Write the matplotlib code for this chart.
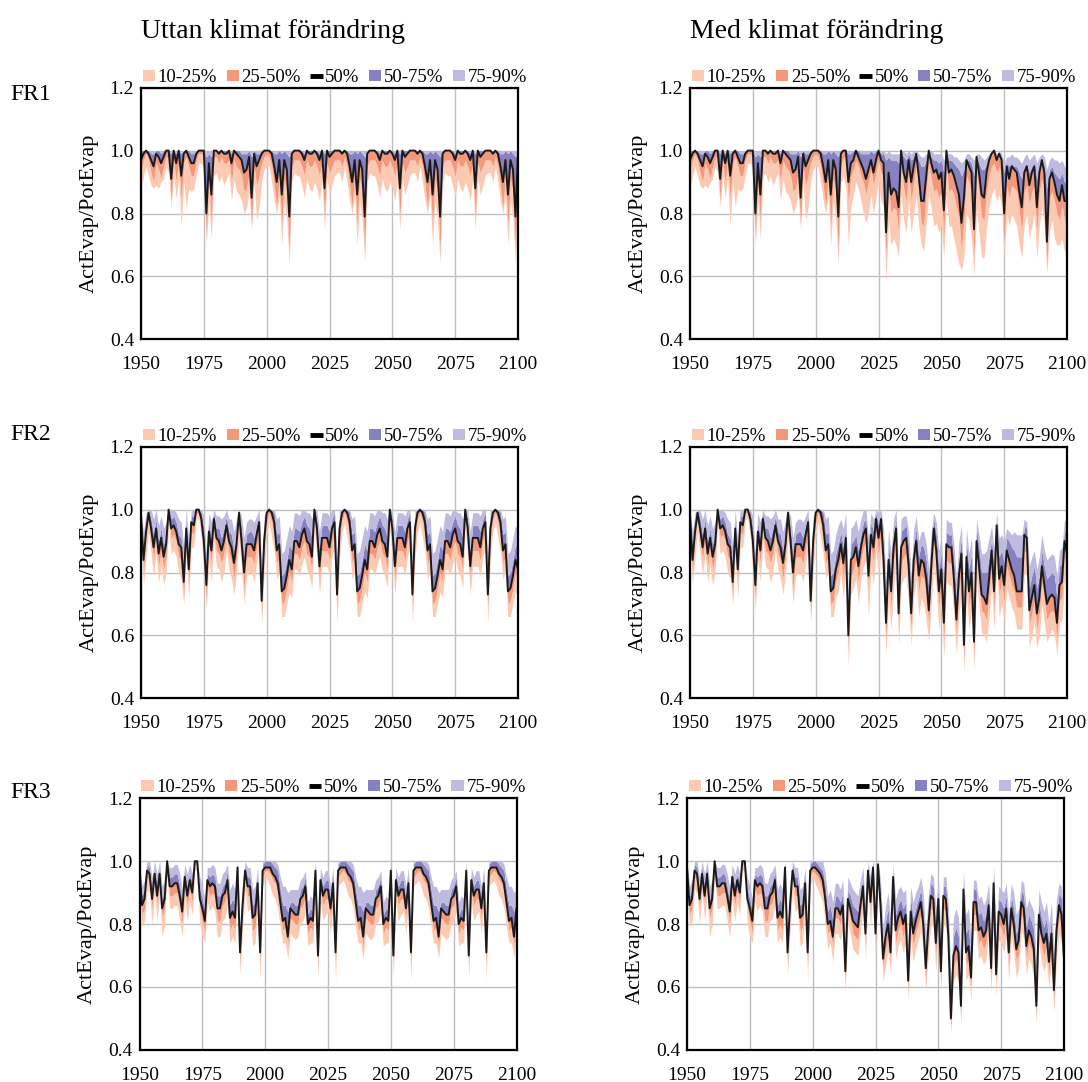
import numpy as np
import matplotlib.pyplot as plt
from matplotlib.patches import Patch
from matplotlib.lines import Line2D

plt.rcParams['font.family'] = ['Liberation Serif', 'DejaVu Serif']

YEARS = np.arange(1950, 2101)
REGIONS = ['FR1', 'FR2', 'FR3']
COL_TITLES = ['Uttan klimat förändring', 'Med klimat förändring']
BAND_LABELS = ['10-25%', '25-50%', '50%', '50-75%', '75-90%']
X_TICKS = [1950, 1975, 2000, 2025, 2050, 2075, 2100]
Y_TICKS = [0.4, 0.6, 0.8, 1.0, 1.2]

# values in hundredths of ActEvap/PotEvap
# HIST = 1950-2000 (same in both columns), CYC = 2001-2030 (repeats without
# climate change), FUT = 2001-2100 with climate change

# ---- FR1 ----
FR1_HIST_MED = [97, 99, 100, 99, 97, 95, 99, 98, 96, 98,
                100, 100, 91, 100, 96, 100, 92, 99, 100, 98,
                96, 96, 99, 100, 100, 100, 80, 96, 86, 100,
                100, 99, 100, 99, 99, 100, 96, 100, 99, 98,
                97, 93, 94, 98, 85, 99, 95, 97, 99, 100,
                100]
FR1_HIST_Q75 = [100, 100, 100, 100, 99, 99, 100, 100, 99, 100,
                100, 100, 99, 100, 99, 100, 99, 100, 100, 100,
                99, 99, 100, 100, 100, 100, 98, 99, 98, 100,
                100, 100, 100, 100, 100, 100, 99, 100, 100, 100,
                99, 99, 99, 100, 98, 100, 99, 99, 100, 100,
                100]
FR1_HIST_Q90 = [100] * 51
FR1_HIST_Q25 = [94, 97, 99, 97, 93, 90, 96, 94, 91, 95,
                98, 98, 84, 97, 90, 97, 84, 96, 98, 95,
                92, 92, 97, 99, 99, 98, 72, 91, 77, 98,
                98, 96, 98, 96, 96, 97, 90, 97, 95, 94,
                92, 87, 88, 93, 76, 95, 89, 92, 96, 98,
                99]
FR1_HIST_Q10 = [88, 92, 95, 92, 89, 88, 89, 88, 90, 91,
                95, 93, 82, 92, 85, 91, 76, 90, 82, 88,
                87, 88, 92, 96, 96, 94, 70, 84, 72, 92,
                93, 90, 92, 89, 91, 93, 84, 91, 87, 86,
                84, 80, 82, 87, 75, 90, 78, 82, 90, 94,
                95]

FR1_CYC_MED = [100, 99, 95, 90, 97, 86, 97, 94, 79, 99,
               100, 100, 100, 99, 97, 100, 99, 99, 100, 99,
               97, 100, 88, 100, 98, 99, 100, 100, 100, 99]
FR1_CYC_Q75 = [100, 100, 99, 99, 100, 99, 100, 99, 98, 100,
               100, 100, 100, 100, 99, 100, 100, 100, 100, 100,
               99, 100, 99, 100, 100, 100, 100, 100, 100, 100]
FR1_CYC_Q90 = [100] * 30
FR1_CYC_Q25 = [98, 95, 89, 82, 92, 76, 91, 87, 68, 95,
               97, 97, 97, 95, 92, 97, 95, 95, 97, 95,
               92, 96, 79, 96, 93, 95, 97, 97, 97, 95]
FR1_CYC_Q10 = [95, 90, 84, 80, 86, 70, 84, 78, 64, 90,
               93, 92, 92, 89, 85, 91, 88, 87, 90, 88,
               84, 91, 75, 91, 86, 89, 92, 93, 93, 90]

FR1_FUT_MED = [100, 99, 95, 90, 97, 86, 97, 94, 79, 99,
               100, 100, 90, 96, 97, 100, 98, 96, 94, 91,
               94, 97, 93, 97, 100, 97, 96, 74, 93, 86,
               88, 87, 82, 100, 93, 90, 97, 90, 95, 99,
               92, 84, 84, 92, 100, 96, 93, 94, 91, 93,
               81, 100, 93, 94, 92, 89, 86, 77, 85, 97,
               95, 93, 75, 98, 93, 86, 85, 93, 97, 99,
               100, 97, 99, 97, 80, 95, 91, 95, 94, 93,
               87, 82, 93, 95, 89, 93, 95, 82, 93, 97,
               93, 71, 91, 93, 90, 86, 84, 89, 84, 84]
FR1_FUT_Q75 = [100, 100, 99, 99, 100, 99, 100, 99, 98, 100,
               100, 100, 99, 99, 100, 100, 100, 99, 99, 99,
               99, 100, 99, 100, 100, 99, 99, 97, 98, 97,
               97, 97, 96, 100, 98, 97, 99, 97, 98, 99,
               97, 95, 95, 97, 99, 98, 97, 97, 96, 97,
               93, 99, 97, 97, 96, 95, 94, 92, 94, 97,
               97, 96, 92, 98, 96, 94, 94, 96, 98, 99,
               100, 98, 98, 97, 93, 96, 95, 96, 95, 95,
               93, 91, 95, 96, 93, 95, 96, 91, 95, 96,
               95, 88, 94, 95, 93, 92, 91, 93, 90, 90]
FR1_FUT_Q90 = [100, 100, 100, 100, 100, 100, 100, 100, 100, 100,
               100, 100, 100, 100, 100, 100, 100, 100, 100, 100,
               100, 100, 100, 100, 100, 100, 100, 99, 100, 99,
               99, 99, 99, 100, 100, 99, 100, 99, 100, 100,
               99, 98, 98, 99, 100, 100, 99, 99, 99, 99,
               97, 100, 99, 99, 98, 98, 97, 96, 97, 99,
               99, 98, 97, 99, 99, 98, 97, 98, 99, 100,
               100, 99, 100, 99, 96, 98, 98, 99, 98, 98,
               97, 96, 98, 99, 97, 98, 99, 96, 98, 99,
               98, 94, 97, 98, 97, 97, 96, 97, 95, 94]
FR1_FUT_Q25 = [98, 95, 89, 82, 92, 76, 91, 87, 68, 95,
               98, 98, 83, 92, 94, 97, 95, 92, 90, 86,
               90, 94, 89, 93, 97, 93, 92, 66, 88, 80,
               82, 81, 74, 96, 88, 84, 93, 84, 90, 95,
               86, 77, 76, 87, 96, 91, 87, 88, 85, 87,
               72, 95, 87, 88, 86, 82, 79, 68, 78, 92,
               90, 87, 66, 93, 87, 79, 78, 87, 92, 95,
               96, 93, 95, 92, 71, 89, 85, 89, 88, 87,
               81, 74, 87, 89, 83, 87, 89, 74, 87, 91,
               87, 63, 85, 87, 84, 80, 78, 83, 78, 77]
FR1_FUT_Q10 = [95, 90, 84, 80, 86, 70, 84, 78, 64, 90,
               92, 88, 70, 82, 86, 90, 88, 84, 80, 77,
               80, 86, 80, 85, 90, 84, 82, 58, 78, 70,
               72, 70, 66, 86, 78, 74, 84, 74, 80, 86,
               76, 70, 68, 77, 86, 82, 76, 77, 74, 76,
               66, 86, 76, 76, 72, 68, 64, 62, 66, 80,
               78, 72, 60, 82, 74, 66, 66, 76, 82, 86,
               88, 84, 86, 82, 66, 80, 76, 80, 78, 76,
               70, 66, 77, 80, 72, 76, 80, 66, 76, 82,
               76, 61, 74, 78, 72, 70, 70, 72, 68, 68]

# ---- FR2 ----
FR2_HIST_MED = [98, 84, 93, 99, 94, 88, 94, 86, 91, 85,
                89, 100, 94, 95, 93, 89, 88, 77, 94, 81,
                96, 95, 100, 100, 97, 90, 76, 93, 87, 97,
                91, 90, 87, 90, 95, 90, 88, 83, 89, 99,
                90, 80, 89, 89, 89, 87, 92, 96, 71, 90,
                99]
FR2_HIST_Q75 = [100, 88, 96, 100, 97, 92, 97, 90, 94, 89,
                92, 100, 97, 98, 96, 92, 91, 82, 97, 85,
                98, 98, 100, 100, 99, 94, 80, 96, 91, 99,
                94, 94, 91, 94, 98, 93, 92, 87, 93, 100,
                94, 85, 92, 93, 93, 91, 95, 98, 76, 94,
                100]
FR2_HIST_Q90 = [100, 93, 99, 100, 100, 97, 100, 95, 98, 94,
                96, 100, 100, 100, 99, 97, 96, 88, 100, 90,
                100, 100, 100, 100, 100, 98, 86, 99, 96, 100,
                98, 98, 97, 98, 100, 97, 97, 93, 97, 100,
                98, 91, 96, 97, 97, 96, 98, 100, 82, 98,
                100]
FR2_HIST_Q25 = [95, 80, 90, 97, 91, 84, 91, 82, 87, 81,
                85, 98, 91, 92, 90, 85, 84, 72, 91, 77,
                93, 92, 99, 99, 95, 86, 71, 89, 83, 94,
                87, 86, 83, 86, 92, 86, 84, 78, 85, 96,
                86, 75, 85, 85, 85, 83, 88, 93, 66, 86,
                96]
FR2_HIST_Q10 = [90, 76, 85, 93, 86, 79, 86, 77, 82, 76,
                80, 95, 86, 87, 85, 80, 78, 70, 86, 72,
                88, 88, 97, 97, 91, 80, 68, 84, 77, 90,
                82, 81, 77, 80, 87, 81, 78, 73, 80, 91,
                81, 70, 79, 80, 80, 77, 83, 88, 64, 80,
                92]

FR2_CYC_MED = [100, 99, 96, 87, 89, 74, 75, 79, 84, 81,
               90, 90, 88, 92, 94, 90, 89, 85, 100, 94,
               82, 91, 91, 91, 88, 94, 96, 73, 94, 99]
FR2_CYC_Q75 = [100, 100, 99, 92, 93, 79, 80, 84, 89, 87,
               94, 94, 93, 96, 98, 95, 94, 91, 100, 97,
               87, 95, 95, 95, 93, 97, 99, 78, 97, 100]
FR2_CYC_Q90 = [100, 100, 100, 97, 98, 86, 87, 91, 95, 93,
               99, 99, 98, 100, 100, 99, 99, 97, 100, 100,
               93, 99, 99, 99, 98, 100, 100, 85, 100, 100]
FR2_CYC_Q25 = [99, 96, 92, 83, 85, 70, 71, 75, 80, 77,
               86, 86, 84, 88, 90, 86, 85, 81, 98, 90,
               78, 87, 87, 87, 84, 90, 93, 69, 90, 97]
FR2_CYC_Q10 = [96, 91, 87, 78, 80, 66, 66, 70, 74, 72,
               81, 81, 79, 83, 85, 81, 79, 75, 94, 85,
               73, 82, 82, 82, 79, 85, 88, 64, 85, 93]

FR2_FUT_MED = [100, 99, 95, 87, 89, 74, 75, 81, 84, 89,
               83, 91, 60, 84, 85, 88, 82, 88, 92, 94,
               79, 92, 88, 97, 91, 97, 84, 64, 84, 74,
               88, 94, 67, 88, 90, 91, 82, 67, 84, 90,
               79, 84, 83, 78, 68, 82, 94, 87, 74, 81,
               64, 89, 88, 88, 78, 65, 79, 86, 57, 85,
               74, 80, 58, 90, 82, 73, 72, 70, 78, 87,
               74, 95, 78, 82, 76, 87, 84, 81, 79, 74,
               74, 74, 92, 91, 68, 72, 76, 67, 72, 82,
               76, 70, 72, 73, 72, 64, 76, 77, 90, 86]
FR2_FUT_Q75 = [100, 100, 99, 92, 93, 79, 80, 86, 89, 93,
               88, 95, 66, 89, 90, 92, 87, 92, 96, 97,
               85, 96, 93, 99, 95, 99, 89, 70, 89, 80,
               93, 97, 74, 93, 94, 95, 88, 73, 89, 94,
               85, 89, 88, 84, 75, 88, 97, 92, 81, 86,
               71, 93, 92, 92, 84, 72, 85, 91, 65, 90,
               81, 86, 65, 94, 88, 80, 80, 80, 85, 91,
               81, 97, 85, 87, 83, 91, 90, 88, 87, 85,
               85, 85, 95, 94, 75, 79, 82, 75, 79, 87,
               82, 78, 79, 80, 79, 72, 82, 83, 94, 90]
FR2_FUT_Q90 = [100, 100, 100, 97, 98, 86, 87, 92, 95, 97,
               94, 99, 74, 94, 95, 97, 93, 97, 100, 100,
               91, 99, 97, 100, 99, 100, 94, 77, 94, 86,
               97, 100, 80, 97, 98, 98, 93, 79, 94, 98,
               90, 93, 93, 89, 81, 93, 99, 96, 87, 91,
               77, 97, 96, 96, 89, 78, 90, 95, 72, 94,
               86, 91, 71, 97, 92, 86, 86, 87, 91, 95,
               87, 99, 91, 92, 90, 94, 93, 92, 93, 92,
               92, 92, 97, 96, 82, 85, 87, 81, 85, 92,
               87, 84, 85, 86, 85, 79, 87, 88, 97, 95]
FR2_FUT_Q25 = [99, 96, 91, 83, 85, 70, 71, 77, 80, 85,
               78, 87, 55, 79, 81, 84, 77, 84, 88, 90,
               74, 88, 83, 93, 86, 93, 79, 59, 79, 69,
               83, 90, 62, 83, 85, 86, 77, 62, 79, 85,
               74, 79, 78, 73, 63, 77, 89, 82, 69, 76,
               59, 84, 83, 83, 73, 60, 74, 81, 52, 80,
               69, 75, 53, 85, 77, 68, 67, 65, 73, 82,
               69, 90, 73, 77, 71, 82, 79, 76, 74, 69,
               69, 69, 87, 86, 63, 67, 71, 62, 67, 77,
               71, 65, 67, 68, 67, 59, 71, 72, 85, 81]
FR2_FUT_Q10 = [96, 91, 86, 78, 80, 66, 66, 72, 74, 80,
               72, 81, 50, 73, 75, 78, 70, 78, 82, 84,
               66, 82, 76, 87, 79, 87, 72, 54, 72, 62,
               75, 83, 57, 76, 78, 79, 70, 57, 72, 78,
               66, 72, 70, 65, 58, 70, 82, 75, 62, 69,
               53, 77, 76, 76, 66, 54, 67, 74, 48, 73,
               62, 68, 49, 78, 70, 61, 60, 58, 66, 75,
               62, 83, 66, 70, 64, 75, 72, 69, 67, 62,
               62, 62, 80, 79, 56, 60, 64, 56, 60, 70,
               64, 58, 60, 62, 60, 54, 64, 65, 78, 74]

# ---- FR3 ----
FR3_HIST_MED = [98, 86, 88, 97, 96, 88, 96, 89, 96, 85,
                88, 100, 92, 92, 93, 93, 89, 84, 95, 89,
                94, 90, 100, 100, 88, 85, 81, 94, 92, 93,
                92, 85, 85, 89, 90, 94, 82, 84, 82, 98,
                71, 86, 97, 92, 92, 82, 83, 93, 71, 97,
                98]
FR3_HIST_Q75 = [100, 89, 91, 99, 98, 91, 98, 92, 98, 88,
                91, 100, 95, 95, 96, 96, 92, 87, 97, 92,
                96, 93, 100, 100, 91, 88, 84, 96, 95, 96,
                95, 89, 89, 92, 93, 97, 86, 88, 86, 99,
                75, 89, 99, 95, 95, 86, 87, 96, 75, 99,
                100]
FR3_HIST_Q90 = [100, 92, 94, 100, 100, 95, 100, 96, 100, 92,
                94, 100, 98, 98, 99, 99, 96, 91, 99, 96,
                99, 96, 100, 100, 95, 92, 88, 98, 98, 99,
                98, 93, 93, 96, 97, 99, 91, 93, 91, 100,
                79, 93, 100, 98, 98, 91, 92, 98, 80, 100,
                100]
FR3_HIST_Q25 = [97, 83, 85, 95, 94, 85, 94, 86, 94, 82,
                85, 99, 89, 89, 90, 90, 86, 80, 92, 86,
                91, 87, 99, 99, 85, 81, 77, 91, 89, 90,
                89, 81, 81, 86, 87, 91, 78, 80, 78, 96,
                67, 83, 95, 89, 89, 78, 79, 90, 67, 95,
                97]
FR3_HIST_Q10 = [94, 79, 81, 91, 90, 80, 90, 81, 90, 76,
                80, 96, 85, 85, 86, 86, 81, 76, 88, 81,
                87, 83, 97, 97, 80, 76, 74, 87, 84, 86,
                84, 76, 76, 81, 82, 86, 74, 76, 74, 92,
                64, 78, 91, 84, 85, 73, 74, 86, 62, 92,
                95]

FR3_CYC_MED = [98, 98, 96, 95, 93, 87, 81, 82, 76, 85,
               84, 83, 83, 88, 89, 92, 80, 82, 81, 97,
               70, 94, 89, 91, 91, 85, 93, 71, 97, 98]
FR3_CYC_Q75 = [100, 100, 99, 98, 97, 91, 86, 86, 84, 87,
               87, 86, 86, 91, 92, 95, 83, 85, 84, 99,
               73, 96, 92, 94, 94, 88, 96, 74, 99, 100]
FR3_CYC_Q90 = [100, 100, 100, 100, 99, 95, 92, 92, 90, 91,
               91, 91, 91, 94, 95, 97, 87, 89, 88, 100,
               77, 98, 95, 97, 97, 92, 98, 79, 100, 100]
FR3_CYC_Q25 = [97, 96, 94, 93, 90, 84, 78, 79, 73, 82,
               81, 80, 80, 85, 86, 89, 77, 79, 78, 95,
               67, 91, 86, 88, 88, 82, 90, 67, 95, 96]
FR3_CYC_Q10 = [94, 92, 89, 88, 85, 79, 74, 74, 69, 77,
               76, 75, 76, 80, 81, 84, 73, 74, 74, 91,
               63, 87, 81, 83, 84, 77, 86, 62, 92, 93]

FR3_FUT_MED = [98, 97, 96, 94, 88, 80, 81, 76, 85, 85,
               83, 86, 65, 88, 85, 81, 80, 79, 86, 92,
               77, 97, 87, 98, 77, 99, 86, 69, 76, 80,
               71, 95, 78, 82, 84, 80, 83, 62, 84, 77,
               81, 84, 87, 80, 66, 79, 89, 88, 74, 88,
               65, 89, 88, 76, 50, 70, 73, 71, 54, 91,
               71, 73, 63, 87, 87, 78, 79, 76, 78, 86,
               66, 93, 64, 84, 83, 80, 85, 71, 85, 80,
               72, 75, 87, 85, 73, 78, 76, 72, 54, 83,
               77, 74, 77, 68, 77, 59, 78, 86, 83, 69]
FR3_FUT_Q75 = [100, 99, 98, 97, 92, 84, 86, 81, 89, 89,
               87, 90, 69, 91, 89, 86, 85, 84, 90, 95,
               81, 99, 91, 100, 82, 100, 90, 73, 81, 85,
               76, 97, 83, 86, 88, 85, 87, 67, 88, 82,
               85, 88, 91, 85, 71, 84, 93, 92, 79, 91,
               70, 92, 92, 81, 55, 76, 79, 76, 60, 94,
               77, 79, 69, 91, 91, 83, 84, 81, 83, 90,
               72, 96, 70, 88, 87, 85, 89, 77, 89, 85,
               77, 80, 91, 89, 79, 83, 81, 78, 60, 87,
               82, 79, 82, 74, 82, 65, 83, 90, 88, 75]
FR3_FUT_Q90 = [100, 100, 100, 100, 96, 89, 91, 87, 93, 93,
               91, 94, 75, 95, 93, 91, 90, 89, 94, 98,
               86, 100, 95, 100, 87, 100, 94, 79, 86, 90,
               82, 99, 88, 91, 92, 90, 91, 73, 92, 87,
               90, 92, 95, 90, 77, 89, 96, 95, 85, 95,
               76, 95, 95, 86, 62, 82, 85, 82, 67, 97,
               83, 85, 75, 94, 94, 88, 89, 86, 88, 93,
               78, 98, 76, 92, 91, 90, 93, 83, 93, 90,
               83, 85, 94, 93, 85, 88, 86, 84, 67, 91,
               87, 84, 87, 80, 87, 71, 88, 93, 92, 81]
FR3_FUT_Q25 = [96, 95, 93, 91, 85, 77, 78, 73, 82, 82,
               80, 83, 62, 85, 82, 77, 76, 75, 83, 89,
               74, 94, 84, 95, 73, 96, 83, 66, 72, 76,
               68, 92, 74, 78, 80, 76, 79, 59, 80, 73,
               77, 80, 83, 76, 63, 75, 85, 84, 70, 84,
               62, 85, 84, 72, 47, 66, 69, 67, 51, 88,
               67, 69, 60, 83, 83, 74, 75, 72, 74, 82,
               62, 90, 61, 80, 79, 76, 81, 67, 81, 76,
               68, 71, 83, 81, 69, 74, 72, 68, 51, 79,
               73, 70, 73, 64, 73, 56, 74, 82, 79, 65]
FR3_FUT_Q10 = [93, 91, 89, 87, 80, 72, 74, 68, 77, 77,
               75, 78, 58, 80, 77, 72, 71, 70, 78, 85,
               69, 91, 79, 92, 68, 93, 78, 62, 67, 71,
               64, 88, 69, 73, 75, 71, 74, 56, 75, 68,
               72, 75, 78, 71, 59, 70, 80, 79, 65, 80,
               58, 80, 79, 67, 45, 62, 64, 62, 48, 84,
               62, 64, 56, 78, 78, 69, 70, 67, 69, 77,
               58, 86, 57, 75, 74, 71, 76, 62, 76, 71,
               63, 66, 78, 76, 64, 69, 67, 63, 48, 74,
               68, 65, 68, 60, 68, 52, 69, 77, 74, 61]

HIST = {
    'FR1': [FR1_HIST_Q10, FR1_HIST_Q25, FR1_HIST_MED, FR1_HIST_Q75, FR1_HIST_Q90],
    'FR2': [FR2_HIST_Q10, FR2_HIST_Q25, FR2_HIST_MED, FR2_HIST_Q75, FR2_HIST_Q90],
    'FR3': [FR3_HIST_Q10, FR3_HIST_Q25, FR3_HIST_MED, FR3_HIST_Q75, FR3_HIST_Q90],
}
CYC = {
    'FR1': [FR1_CYC_Q10, FR1_CYC_Q25, FR1_CYC_MED, FR1_CYC_Q75, FR1_CYC_Q90],
    'FR2': [FR2_CYC_Q10, FR2_CYC_Q25, FR2_CYC_MED, FR2_CYC_Q75, FR2_CYC_Q90],
    'FR3': [FR3_CYC_Q10, FR3_CYC_Q25, FR3_CYC_MED, FR3_CYC_Q75, FR3_CYC_Q90],
}
FUT = {
    'FR1': [FR1_FUT_Q10, FR1_FUT_Q25, FR1_FUT_MED, FR1_FUT_Q75, FR1_FUT_Q90],
    'FR2': [FR2_FUT_Q10, FR2_FUT_Q25, FR2_FUT_MED, FR2_FUT_Q75, FR2_FUT_Q90],
    'FR3': [FR3_FUT_Q10, FR3_FUT_Q25, FR3_FUT_MED, FR3_FUT_Q75, FR3_FUT_Q90],
}

COLORS = ['#fcc9b2', '#f4987b', '#1a1a1a', '#8682c1', '#bebbde']


def without_change(region):
    # the 2001-2030 pattern recurs every 30 years up to 2100
    out = []
    for h, c in zip(HIST[region], CYC[region]):
        out.append(np.array(h + (c * 4)[:100]) / 100.0)
    return out


def with_change(region):
    return [np.array(h + f) / 100.0 for h, f in zip(HIST[region], FUT[region])]


fig = plt.figure(figsize=(10.88, 10.82), dpi=100)

# axes frames in pixels (left, top) per row and column
AX_W, AX_H = 377, 251.6
ROW_TOP = [87.7, 446.7, 798.3]
COL_LEFT = [[141, 690], [141, 690], [139.5, 687]]
ROW_LABEL_Y = [95, 435, 793]

legend_handles = [Patch(facecolor=COLORS[0], edgecolor='none'),
                  Patch(facecolor=COLORS[1], edgecolor='none'),
                  Line2D([0], [0], color='black', lw=3.5, solid_capstyle='butt'),
                  Patch(facecolor=COLORS[3], edgecolor='none'),
                  Patch(facecolor=COLORS[4], edgecolor='none')]

for r, region in enumerate(REGIONS):
    for c in range(2):
        x0 = COL_LEFT[r][c] / 1088
        y0 = 1 - (ROW_TOP[r] + AX_H) / 1082
        ax = fig.add_axes([x0, y0, AX_W / 1088, AX_H / 1082])
        q10, q25, q50, q75, q90 = without_change(region) if c == 0 else with_change(region)

        ax.fill_between(YEARS, q10, q25, color=COLORS[0], lw=0)
        ax.fill_between(YEARS, q25, q50, color=COLORS[1], lw=0)
        ax.fill_between(YEARS, q50, q75, color=COLORS[3], lw=0)
        ax.fill_between(YEARS, q75, q90, color=COLORS[4], lw=0)
        ax.plot(YEARS, q50, color=COLORS[2], lw=1.4)

        ax.set_xlim(1950, 2100)
        ax.set_ylim(0.4, 1.2)
        ax.set_xticks(X_TICKS)
        ax.set_yticks(Y_TICKS)
        ax.set_yticklabels(['%.1f' % v for v in Y_TICKS])
        ax.grid(True, color='#bfbfbf', lw=1.0)
        ax.set_axisbelow(True)
        ax.tick_params(length=0, labelsize=14)
        ax.tick_params(axis='x', pad=12)
        ax.tick_params(axis='y', pad=5)
        for sp in ax.spines.values():
            sp.set_linewidth(1.6)
            sp.set_color('black')
        ax.set_ylabel('ActEvap/PotEvap', fontsize=16, labelpad=8)

        ax.legend(legend_handles, BAND_LABELS, ncol=5, loc='lower left',
                  bbox_to_anchor=(0.0, 1.0), frameon=False, fontsize=13.5,
                  borderaxespad=0.1, borderpad=0.0, handlelength=0.65,
                  handleheight=0.55, handletextpad=0.15, columnspacing=0.5)

    fig.text(10 / 1088, 1 - ROW_LABEL_Y[r] / 1082, region, fontsize=17,
             ha='left', va='center')

for c, title in enumerate(COL_TITLES):
    fig.text(COL_LEFT[0][c] / 1088, 1 - 31 / 1082, title, fontsize=20,
             ha='left', va='center')

fig.savefig('out.png', dpi=100)
